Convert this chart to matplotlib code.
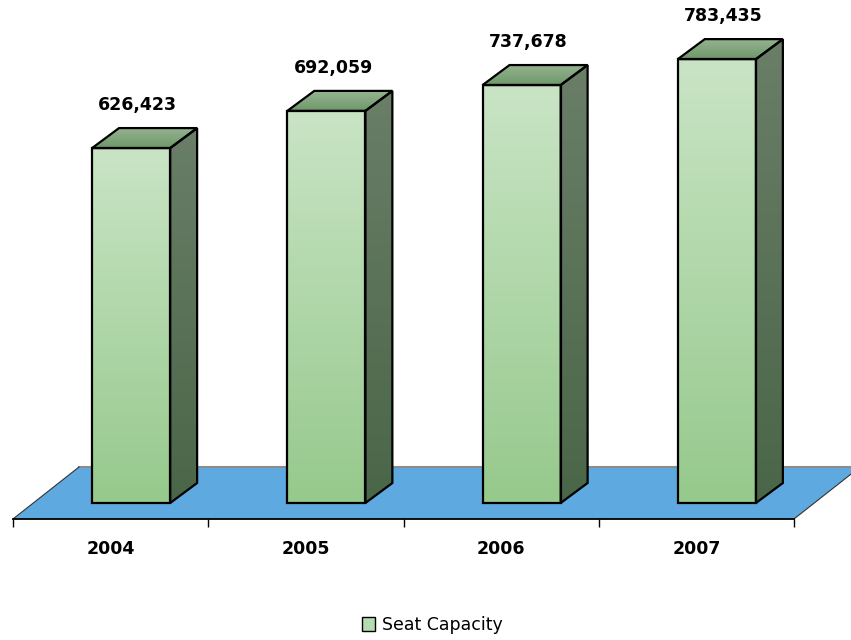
import matplotlib
matplotlib.use("Agg")
import matplotlib.pyplot as plt
from matplotlib.patches import Polygon, Patch
import matplotlib.colors as mcolors
import numpy as np

years = ["2004", "2005", "2006", "2007"]
seats = [626423, 692059, 737678, 783435]
series_name = "Seat Capacity"

# fake 3d geometry, in data units (x: category, y: seats)
bar_left = 0.405      # front face offset inside a category
bar_width = 0.40
depth_dx = 0.138
depth_dy = 35300
floor_front = -28200
floor_back = 63500
floor_dx = 0.338

front_top, front_bot = "#c9e4c5", "#96c98c"
side_top, side_bot = "#6a7e68", "#4a6648"
top_front, top_back = "#6e9868", "#95b391"
floor_color = "#5ea9e0"


def gradient_fill(ax, poly, c_top, c_bot, y0, y1):
    """Fill a polygon with a vertical gradient from c_top (at y1) to c_bot (at y0)."""
    xs = [p[0] for p in poly]
    cmap = mcolors.LinearSegmentedColormap.from_list("g", [c_bot, c_top])
    grad = np.linspace(0, 1, 256).reshape(-1, 1)
    im = ax.imshow(grad, cmap=cmap, origin="lower", aspect="auto",
                   extent=[min(xs), max(xs), y0, y1], interpolation="bilinear", zorder=3)
    patch = Polygon(poly, closed=True, facecolor="none", edgecolor="black", lw=1.6, zorder=4)
    ax.add_patch(patch)
    im.set_clip_path(patch)


fig = plt.figure(figsize=(8.51, 6.4), dpi=100)
ax = fig.add_axes([0, 0, 1, 1])
ppu = 195.25   # pixels per category
vpp = 1765.0   # seats per pixel
ax.set_xlim(-13 / ppu, 838 / ppu)
ax.set_ylim(-137 * vpp, 503 * vpp)

n = len(years)

# floor
floor = Polygon([(0, floor_front), (n, floor_front), (n + floor_dx, floor_back), (floor_dx, floor_back)],
                closed=True, facecolor=floor_color, edgecolor="none", zorder=1)
ax.add_patch(floor)
ax.plot([floor_dx, n + floor_dx], [floor_back, floor_back], color="#8c8c8c", lw=1.5, zorder=2)
ax.plot([0, floor_dx], [floor_front, floor_back], color="#333333", lw=0.8, zorder=2)
ax.plot([n, n + floor_dx], [floor_front, floor_back], color="#333333", lw=0.8, zorder=2)

for i, v in enumerate(seats):
    x0 = i + bar_left
    x1 = x0 + bar_width
    # side face
    side = [(x1, 0), (x1 + depth_dx, depth_dy), (x1 + depth_dx, v + depth_dy), (x1, v)]
    gradient_fill(ax, side, side_top, side_bot, 0, v + depth_dy)
    # top face
    top = [(x0, v), (x1, v), (x1 + depth_dx, v + depth_dy), (x0 + depth_dx, v + depth_dy)]
    gradient_fill(ax, top, top_back, top_front, v, v + depth_dy)
    # front face
    front = [(x0, 0), (x1, 0), (x1, v), (x0, v)]
    gradient_fill(ax, front, front_top, front_bot, 0, v)
    ax.text(x0 + bar_width / 2 + depth_dx * 0.25, v + depth_dy + 14 * vpp, f"{v:,}",
            ha="center", va="bottom", fontsize=12.5, fontweight="bold", zorder=5)

# category axis along the floor front edge
for s in ["top", "right", "left"]:
    ax.spines[s].set_visible(False)
ax.spines["bottom"].set_position(("data", floor_front))
ax.spines["bottom"].set_bounds(0, n)
ax.spines["bottom"].set_linewidth(1.3)
ax.spines["bottom"].set_zorder(2)
ax.set_yticks([])
ax.set_xticks(np.arange(n + 1))
ax.set_xticklabels([])
ax.tick_params(axis="x", which="major", direction="out", length=6, width=1)
ax.set_xticks(np.arange(n) + 0.5, minor=True)
ax.set_xticklabels(years, minor=True, fontsize=12.5, fontweight="bold")
ax.tick_params(axis="x", which="minor", length=0, pad=15)

handle = Patch(facecolor="#b5dbb0", edgecolor="black", lw=1)
fig.legend([handle], [series_name], loc="center", bbox_to_anchor=(0.508, 1 - 625 / 640),
           frameon=False, fontsize=12.5, handlelength=0.8, handleheight=0.8, handletextpad=0.4)

fig.savefig("out.png", dpi=100)
